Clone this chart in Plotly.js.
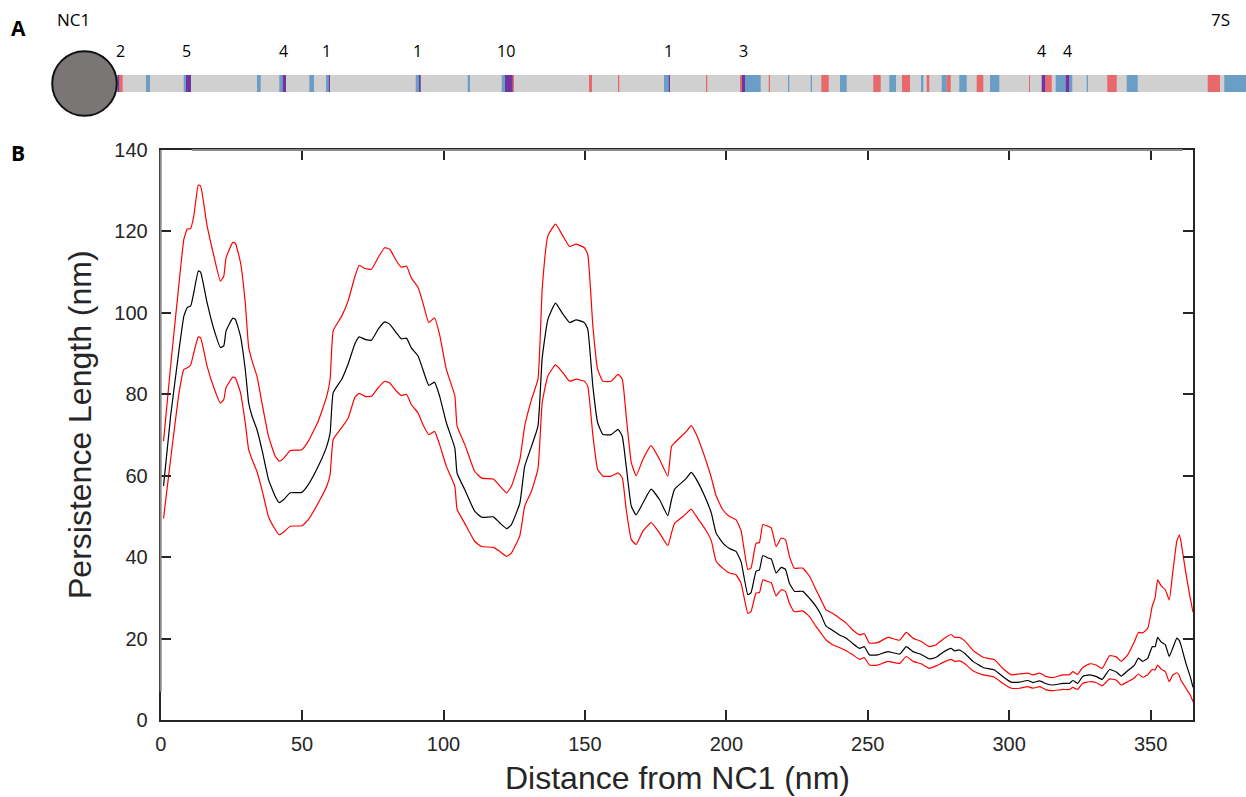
<!DOCTYPE html>
<html>
<head>
<meta charset="utf-8">
<script src="https://cdn.plot.ly/plotly-3.0.1.min.js"></script>
<style>html,body{margin:0;padding:0;background:#fff;}#chart{width:1246px;height:797px;}</style>
</head>
<body>
<div id="chart"></div>
<script>
// ---- Panel B data: distance from NC1 (nm) and persistence length (nm) ----
const distance = [1.0,3.5,6.5,8.2,9.4,10.6,11.7,13.3,14.1,16.4,18.8,21.1,22.3,23.1,25.5,26.4,28.2,29.9,31.1,32.3,34.0,35.8,38.1,40.5,41.9,43.4,45.8,49.9,52.2,55.7,58.7,59.9,61.0,64.0,66.3,68.7,70.2,72.2,74.5,76.9,79.2,81.0,83.3,85.1,86.9,88.6,91.0,92.7,94.8,96.8,98.6,101.0,104.0,104.8,107.5,111.0,113.5,117.6,119.9,122.3,124.0,127.0,128.7,131.1,133.4,134.9,136.9,139.6,142.2,144.6,146.9,149.8,151.0,152.8,154.5,156.4,159.3,161.7,163.2,164.6,166.4,168.1,170.5,173.4,176.4,179.3,180.6,181.7,184.7,185.9,187.6,189.4,192.9,194.7,196.4,198.7,201.1,203.4,205.2,207.6,208.7,210.5,211.7,212.9,214.7,215.9,217.6,219.4,220.9,222.3,224.1,227.0,229.4,231.7,233.5,235.2,237.6,240.0,242.4,244.7,247.1,248.8,250.6,253.5,257.1,261.3,263.6,266.0,268.9,271.8,274.2,276.5,279.5,280.7,282.4,284.2,287.2,290.8,294.8,297.7,300.7,303.6,306.6,308.4,310.8,313.1,315.4,319.0,321.3,322.5,324.2,326.0,328.4,330.7,332.9,335.5,337.9,339.6,341.9,344.3,345.7,347.2,349.0,350.6,351.6,352.5,353.7,355.2,356.6,357.8,359.3,360.2,360.7,362.5,364.0,365.0];
const meanLp = [57.5,74.6,91.0,99.2,101.3,101.7,105.0,110.3,110.0,102.5,96.0,91.5,91.9,95.5,98.7,98.4,94.3,86.1,77.9,74.6,71.4,66.4,59.1,54.9,53.4,54.1,55.8,55.9,57.8,62.3,67.2,70.5,80.4,83.7,87.5,92.5,94.1,93.5,93.3,96.0,97.8,97.2,95.1,93.6,93.8,91.4,89.4,86.1,82.2,83.0,79.6,73.0,66.8,60.6,56.6,51.3,49.8,49.9,48.4,47.0,48.0,53.3,62.3,67.2,72.2,89.0,98.4,102.4,99.7,97.6,98.3,97.6,96.0,82.0,73.0,70.1,70.1,71.4,69.7,62.3,52.5,50.4,53.3,56.7,54.1,50.2,54.1,56.7,58.6,59.4,60.8,59.1,54.1,50.8,45.9,43.5,42.1,41.4,38.9,30.8,31.2,36.5,36.9,40.4,39.8,39.5,36.1,37.5,37.0,33.6,31.6,31.6,29.9,27.9,25.8,23.1,22.0,20.9,20.1,18.8,17.6,18.0,16.0,16.0,16.8,16.2,18.0,16.8,16.1,15.0,15.4,16.6,17.6,17.0,17.2,16.4,14.4,12.9,12.3,10.7,9.3,9.3,9.7,9.2,9.6,8.9,8.6,9.0,9.0,9.7,9.0,10.7,11.1,10.7,10.0,12.4,11.8,10.8,12.1,13.5,15.2,14.4,15.2,18.0,18.0,20.3,19.2,18.5,15.6,17.6,20.1,19.5,18.5,13.9,10.7,8.0];
const upperLp = [68.5,86.9,107.4,118.1,120.6,120.7,123.8,131.4,131.2,121.4,114.0,107.8,109.0,113.5,117.3,117.1,112.4,102.5,91.5,88.2,84.5,77.9,69.7,64.8,63.6,64.2,66.2,66.4,68.5,73.4,79.5,83.7,95.6,99.2,103.0,109.0,111.7,110.9,110.7,113.6,116.0,115.6,112.8,111.2,111.5,108.6,106.2,102.5,97.6,98.8,94.7,86.1,79.6,72.2,67.7,61.1,59.4,59.2,57.5,55.8,57.4,64.0,72.2,78.7,83.7,106.0,118.9,121.8,118.9,116.3,116.9,116.0,114.4,96.8,86.1,83.2,83.2,84.9,83.7,74.6,63.2,60.0,64.0,67.4,64.0,59.9,67.2,68.1,70.1,70.9,72.3,70.1,63.5,59.5,55.0,51.7,50.0,49.2,46.5,37.0,37.3,43.4,43.6,48.0,47.6,47.2,42.6,44.7,44.3,40.2,37.3,37.3,35.3,32.0,29.5,27.1,26.2,25.0,23.8,22.1,20.9,21.2,18.9,19.0,20.3,19.6,21.5,20.1,19.3,18.0,18.5,19.8,21.0,20.3,20.3,19.5,17.1,15.4,14.8,12.7,11.1,11.3,11.5,11.1,11.5,10.7,10.4,11.1,11.1,11.9,11.2,12.9,13.8,13.5,12.7,15.8,15.5,14.4,16.0,19.3,21.5,21.4,22.5,28.0,30.0,34.4,33.0,32.0,29.5,36.0,44.0,45.5,44.0,36.0,30.0,26.5];
const lowerLp = [49.5,64.0,80.4,86.1,86.5,87.2,90.2,94.1,93.9,86.9,81.6,77.8,78.7,81.6,84.2,84.0,80.4,73.0,66.4,64.0,61.1,56.6,50.0,46.8,45.5,46.1,47.6,47.7,49.2,53.3,57.4,60.3,68.9,71.8,74.2,79.3,80.2,79.5,79.5,81.6,83.2,82.8,80.8,79.7,80.0,77.5,75.4,72.6,70.1,70.9,67.7,62.3,57.4,51.7,48.3,43.9,42.6,42.4,41.4,40.2,41.0,45.3,52.5,56.2,61.7,78.0,84.5,87.2,85.3,83.2,83.7,83.2,82.0,70.0,61.5,59.9,59.9,60.7,59.5,51.7,44.3,43.1,46.4,48.5,45.9,42.8,45.9,48.3,50.0,50.8,51.8,50.0,46.5,44.0,39.0,37.3,36.1,35.7,33.6,26.2,26.6,31.2,31.3,34.4,34.0,33.7,30.5,32.0,31.6,28.7,26.6,26.8,25.4,23.0,21.3,19.7,18.5,17.8,17.0,16.0,14.9,15.3,13.5,13.5,14.4,13.9,15.6,14.4,13.8,12.7,13.3,14.1,14.9,14.4,14.5,13.9,12.1,11.1,10.5,9.0,7.8,7.8,8.2,7.8,8.2,7.4,7.2,7.5,7.5,8.0,7.5,9.0,9.4,9.2,8.4,10.1,9.8,8.6,9.4,10.4,11.3,10.5,11.1,12.4,12.3,13.5,12.5,11.9,9.4,11.0,11.6,10.8,9.8,7.8,6.2,4.5];
const xTicks = [0,50,100,150,200,250,300,350];
const yTicks = [0,20,40,60,80,100,120,140];

// ---- Panel A data: positions along the schematic strip ----
const stripStart = [117];
const stripEnd = [1246];
const redStart = [119.3,512.7,589,618,706,740,768.7,821.3,873.3,902,926.7,946.7,976.7,1029,1045.3,1107.3,1207.7];
const redEnd   = [122.7,514,592,619.3,707.3,741.7,770,828.7,880.7,910,929.3,950.7,983.3,1030,1051.7,1116.7,1220];
const blueStart = [146,183.7,257,279.3,309.3,326,415.7,467.7,501.7,664,745,788,810.7,840,889.3,921,941.7,959.3,990,1055.7,1069.3,1086.7,1126.7,1224.3];
const blueEnd   = [150,186,260.7,282.7,314,328.7,419,470,505,668.7,760.7,789.3,812,846.7,896,923.3,946.7,966.7,999.3,1065.7,1072.3,1088,1137.7,1246];
const purpleStart = [117.5,186,282.7,328.7,419,505,668.7,741.7,1041.7,1065.7];
const purpleEnd   = [119.3,191,286,330,420.7,512.7,670,745,1045.3,1069.3];
const countPos  = [120,186.7,283.3,326,417.3,506,668.3,743.3,1041.7,1067.3];
const countText = ['2','5','4','1','1','10','1','3','4','4'];

const AX = '#262626';
const FONT = '"Liberation Sans", Arial, sans-serif';
const LBL = '"Open Sans", sans-serif';

function stripTrace(starts, ends, color) {
  return {
    type: 'bar', orientation: 'h', xaxis: 'x2', yaxis: 'y2',
    y: starts.map(() => 0),
    base: starts,
    x: starts.map((s, i) => ends[i] - s),
    width: 0.507,
    marker: {color: color, line: {width: 0}},
    hoverinfo: 'skip', showlegend: false
  };
}

const lineOpts = (color) => ({color: color, width: 1.2, shape: 'spline', smoothing: 0.4});

const traces = [
  stripTrace(stripStart, stripEnd, '#d0d0d0'),
  stripTrace(blueStart, blueEnd, '#6a9ec6'),
  stripTrace(redStart, redEnd, '#e8686c'),
  stripTrace(purpleStart, purpleEnd, '#7233a0'),
  {x: distance, y: upperLp, type: 'scatter', mode: 'lines', line: lineOpts('#ff0000'), xaxis: 'x', yaxis: 'y', hoverinfo: 'skip'},
  {x: distance, y: lowerLp, type: 'scatter', mode: 'lines', line: lineOpts('#ff0000'), xaxis: 'x', yaxis: 'y', hoverinfo: 'skip'},
  {x: distance, y: meanLp, type: 'scatter', mode: 'lines', line: lineOpts('#000000'), xaxis: 'x', yaxis: 'y', hoverinfo: 'skip'}
];

const annotations = countPos.map((p, i) => ({
  x: p, y: 0.979, xref: 'x2', yref: 'y2', text: countText[i], showarrow: false,
  xanchor: 'center', yanchor: 'middle', font: {family: LBL, size: 16, color: '#000'}
}));
annotations.push(
  {x: 73/1246, y: (797-20)/797, xref: 'paper', yref: 'paper', text: 'NC1', showarrow: false, xanchor: 'center', yanchor: 'middle', font: {family: LBL, size: 17, color: '#000'}},
  {x: 1220/1246, y: (797-20)/797, xref: 'paper', yref: 'paper', text: '7S', showarrow: false, xanchor: 'center', yanchor: 'middle', font: {family: LBL, size: 17, color: '#000'}},
  {x: 18/1246, y: (797-28)/797, xref: 'paper', yref: 'paper', text: '<b>A</b>', showarrow: false, xanchor: 'center', yanchor: 'middle', font: {family: LBL, size: 21, color: '#000'}},
  {x: 18/1246, y: (797-153)/797, xref: 'paper', yref: 'paper', text: '<b>B</b>', showarrow: false, xanchor: 'center', yanchor: 'middle', font: {family: LBL, size: 21, color: '#000'}},
  {x: 677/1246, y: (797-778)/797, xref: 'paper', yref: 'paper', text: 'Distance from NC1 (nm)', showarrow: false, xanchor: 'center', yanchor: 'middle', font: {family: FONT, size: 32, color: AX}},
  {x: 80/1246, y: (797-424)/797, xref: 'paper', yref: 'paper', text: 'Persistence Length (nm)', showarrow: false, textangle: -90, xanchor: 'center', yanchor: 'middle', font: {family: FONT, size: 32, color: AX}}
);

const axisCommon = {
  ticks: 'inside', ticklen: 10, tickwidth: 2, tickcolor: AX,
  showline: true, linecolor: AX, linewidth: 2, mirror: 'ticks',
  showgrid: false, zeroline: false,
  tickfont: {family: FONT, size: 20, color: AX}
};

const layout = {
  width: 1246, height: 797,
  margin: {l: 0, r: 0, t: 0, b: 0},
  paper_bgcolor: '#ffffff', plot_bgcolor: '#ffffff',
  showlegend: false, barmode: 'overlay',
  font: {family: FONT},
  xaxis: Object.assign({}, axisCommon, {domain: [160.7/1246, 1193/1246], range: [0, 365], tickvals: xTicks, anchor: 'y', ticklabelstandoff: 5}),
  yaxis: Object.assign({}, axisCommon, {domain: [(797-720)/797, (797-150)/797], range: [0, 140], tickvals: yTicks, anchor: 'x', ticklabelstandoff: 7}),
  xaxis2: {domain: [0, 1], range: [0, 1246], visible: false, anchor: 'y2', fixedrange: true},
  yaxis2: {domain: [(797-117)/797, (797-50)/797], range: [-1, 1], visible: false, anchor: 'x2', fixedrange: true},
  shapes: [
    {type: 'line', xref: 'x domain', yref: 'y domain', x0: 0, x1: 0, y0: 0.05, y1: 1, line: {color: '#8a8a8a', width: 2}},
    {type: 'line', xref: 'x domain', yref: 'y domain', x0: 0.03, x1: 0.99, y0: 1, y1: 1, line: {color: '#8a8a8a', width: 2}},
    {type: 'circle', xref: 'x2', yref: 'y2', x0: 52.2, x1: 116.8, y0: -0.964, y1: 0.964, fillcolor: '#7a7676', line: {color: '#111111', width: 2}}
  ],
  annotations: annotations
};

Plotly.newPlot('chart', traces, layout, {displayModeBar: false, staticPlot: true});
</script>
</body>
</html>
